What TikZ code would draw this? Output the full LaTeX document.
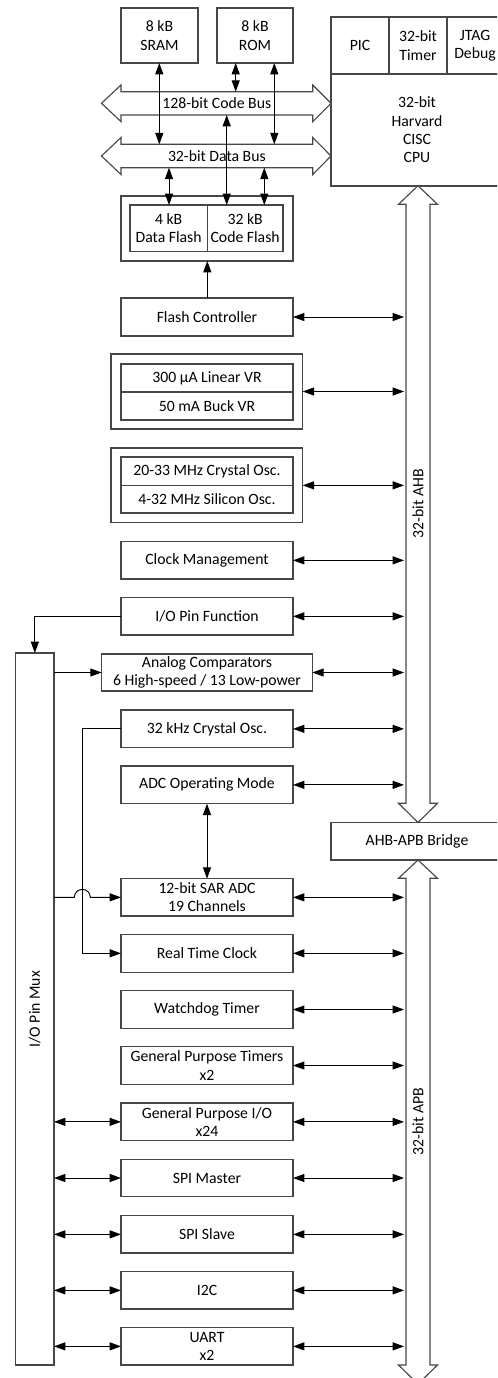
\documentclass[tikz,border=0pt]{standalone}
\usepackage{fontspec}
\setmainfont{Carlito}
\usetikzlibrary{arrows.meta}
\newcommand\blk[6]{%
  \pgfmathsetmacro\bw{(#4-#2)*0.75}%
  \pgfmathsetmacro\bh{(#5-#3)*0.75}%
  \node[box, minimum width=\bw pt, minimum height=\bh pt] (#1) at ({(#2+#4)/2},{(#3+#5)/2}) {#6};}
\newcommand\cel[6]{%
  \pgfmathsetmacro\bw{(#4-#2)*0.75}%
  \pgfmathsetmacro\bh{(#5-#3)*0.75}%
  \node[cell, minimum width=\bw pt, minimum height=\bh pt] (#1) at ({(#2+#4)/2},{(#3+#5)/2}) {#6};}
\begin{document}
\begin{tikzpicture}[x=0.75pt,y=-0.75pt,
  txt/.style={font=\fontsize{11.8}{13.75}\selectfont, align=center},
  box/.style={txt, draw=black!72, line width=0.85pt, inner sep=0pt, outer sep=0pt},
  cell/.style={txt, inner sep=0pt, outer sep=0pt},
  bus/.style={draw=black!72, line width=0.85pt, line join=miter},
  con/.style={draw=black, line width=0.7pt},
  arr/.style={con, -{Triangle[length=8.5pt,width=6pt]}},
  darr/.style={con, {Triangle[length=8.5pt,width=6pt]}-{Triangle[length=8.5pt,width=6pt]}}]
\useasboundingbox (0,0) rectangle (497,1378);
\clip (0,0) rectangle (497,1378);

% memories
\blk{sram}{121}{8}{198}{63}{8 kB\\SRAM}
\blk{rom}{217}{8}{293}{63}{8 kB\\ROM}

% CPU
\blk{pic}{331}{17}{389}{74}{PIC}
\blk{timer}{389}{17}{447}{74}{32-bit\\Timer}
\blk{jtag}{447}{17}{503}{74}{JTAG\\Debug}
\blk{cpu}{331}{74}{503}{186}{32-bit\\Harvard\\CISC\\CPU}

% buses
\draw[bus] (101.5,103.3) -- (121,85) -- (121,91.7) -- (312.7,91.7) -- (312.7,85) -- (331,103.3)
  -- (312.7,121.6) -- (312.7,115) -- (121,115) -- (121,121.6) -- cycle;
\cel{codebus}{121}{91.7}{312.7}{115}{128-bit Code Bus}
\draw[bus] (101.5,156) -- (121,137.5) -- (121,144.3) -- (312.7,144.3) -- (312.7,137.5) -- (331,156)
  -- (312.7,174.5) -- (312.7,167.7) -- (121,167.7) -- (121,174.5) -- cycle;
\cel{databus}{121}{144.3}{312.7}{167.7}{32-bit Data Bus}

% AHB
\draw[bus] (418,185.7) -- (437.5,204.3) -- (430,204.3) -- (430,803.3) -- (437.5,803.3) -- (418,822.5)
  -- (398.5,803.3) -- (406,803.3) -- (406,204.3) -- (398.5,204.3) -- cycle;
\cel{ahb}{406}{204.3}{430}{803.3}{}
\node[txt, rotate=90] (ahblbl) at (ahb.center) {32-bit AHB};
% bridge
\blk{bridge}{331}{822.5}{503}{860}{AHB-APB Bridge}
% APB
\draw[bus] (418,860) -- (437.5,878.3) -- (430,878.3) -- (430,1365) -- (437.5,1365) -- (418,1384)
  -- (398.5,1365) -- (406,1365) -- (406,878.3) -- (398.5,878.3) -- cycle;
\cel{apb}{406}{878.3}{430}{1365}{}
\node[txt, rotate=90] (apblbl) at (apb.center) {32-bit APB};

% flash
\blk{flashout}{121}{196}{293}{261}{}
\blk{dflash}{130}{205}{207.3}{251.7}{4 kB\\Data Flash}
\blk{cflash}{207.3}{205}{283}{251.7}{32 kB\\Code Flash}

% left column blocks
\blk{fc}{121}{298}{293}{336}{Flash Controller}
\blk{vrout}{111}{354}{302.7}{429}{}
\blk{vr1}{121}{364}{293}{392}{300 µA Linear VR}
\blk{vr2}{121}{392}{293}{420}{50 mA Buck VR}
\blk{oscout}{111}{448}{302.7}{522.7}{}
\blk{osc1}{121}{457}{293}{485.7}{20-33 MHz Crystal Osc.}
\blk{osc2}{121}{485.7}{293}{513}{4-32 MHz Silicon Osc.}
\blk{clk}{121}{541.7}{293}{579}{Clock Management}
\blk{iopf}{121}{597.7}{293}{635}{I/O Pin Function}
\blk{acmp}{101.7}{654}{312.3}{691}{Analog Comparators\\6 High-speed / 13 Low-power}
\blk{xtal32}{121}{710}{293}{747.7}{32 kHz Crystal Osc.}
\blk{adcmode}{121}{766}{293}{803.7}{ADC Operating Mode}
\blk{adc}{121}{878.7}{293}{916}{12-bit SAR ADC\\19 Channels}
\blk{rtc}{121}{934.3}{293}{972.3}{Real Time Clock}
\blk{wdt}{121}{990.7}{293}{1028.3}{Watchdog Timer}
\blk{gpt}{121}{1046.7}{293}{1084.3}{General Purpose Timers\\x2}
\blk{gpio}{121}{1103}{293}{1140.7}{General Purpose I/O\\x24}
\blk{spim}{121}{1159.3}{293}{1196.7}{SPI Master}
\blk{spis}{121}{1215.7}{293}{1253}{SPI Slave}
\blk{i2c}{121}{1271.7}{293}{1309}{I2C}
\blk{uart}{121}{1327.7}{293}{1365}{UART\\x2}

% pin mux
\blk{pinmux}{15.7}{653}{54}{1365}{}
\node[txt, rotate=90] (pmlbl) at (pinmux.center) {I/O Pin Mux};

% memory connectors
\draw[darr] (159.3,0 |- sram.south) -- (159.3,0 |- databus.north);
\draw[darr] (235.7,0 |- rom.south) -- (235.7,0 |- codebus.north);
\draw[darr] (274.3,0 |- rom.south) -- (274.3,0 |- databus.north);
\draw[darr] (226.7,0 |- codebus.south) -- (226.7,0 |- cflash.north);
\draw[darr] (169,0 |- databus.south) -- (169,0 |- dflash.north);
\draw[darr] (264.3,0 |- databus.south) -- (264.3,0 |- cflash.north);
\draw[arr] (fc.north -| dflash.east) -- (flashout.south -| dflash.east);

% AHB / APB connectors
\coordinate (busL) at (404,0);
\draw[darr] (fc.east) -- (busL |- fc.east);
\draw[darr] (vrout.east) -- (busL |- vrout.east);
\draw[darr] (oscout.east) -- (busL |- oscout.east);
\foreach \n in {clk,iopf,acmp,xtal32,adcmode,adc,rtc,wdt,gpt,gpio,spim,spis,i2c,uart}
  \draw[darr] (\n.east) -- (busL |- \n.east);

% ADC mode to ADC
\draw[darr] (adcmode.south) -- (adc.north);

% pin mux connectors
\draw[arr] (iopf.west) -- (pinmux.north |- iopf.west) -- (pinmux.north);
\draw[arr] (pinmux.east |- acmp.west) -- (acmp.west);
\coordinate (rtcx) at (82.3,0);
\draw[arr] (xtal32.west) -- (rtcx |- xtal32.west) -- (rtcx |- rtc.west) -- (rtc.west);
\draw[arr] (pinmux.east |- adc.west) -- (74.3,0 |- adc.west) arc[start angle=180, end angle=0, radius=6pt] -- (adc.west);
\foreach \n in {gpio,spim,spis,i2c,uart}
  \draw[darr] (pinmux.east |- \n.west) -- (\n.west);
\end{tikzpicture}
\end{document}
